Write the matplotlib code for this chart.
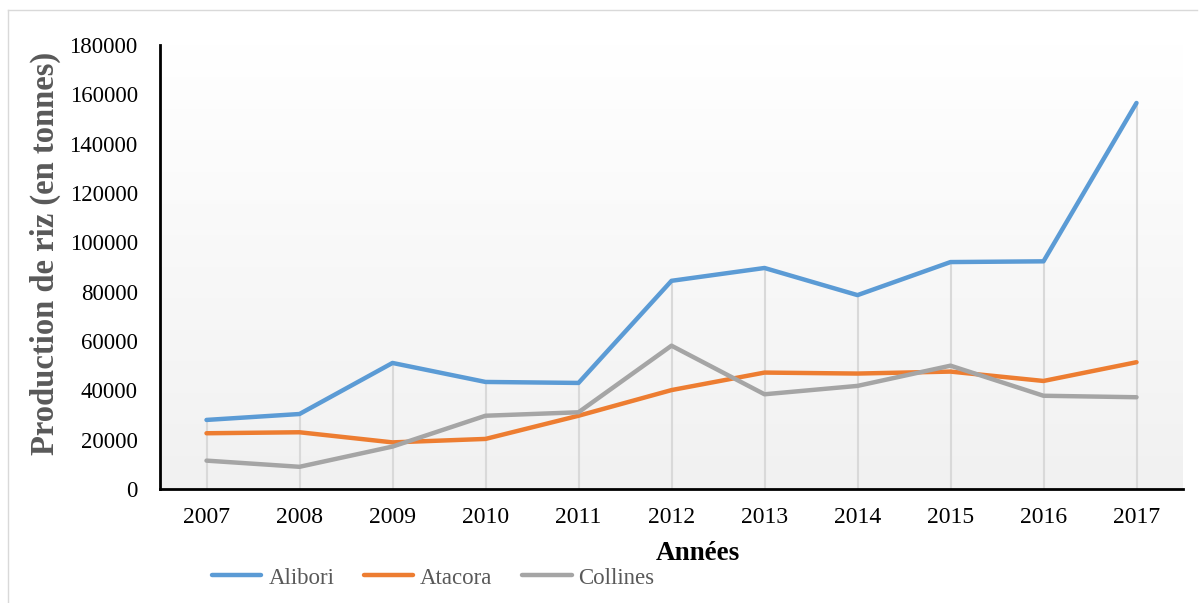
import numpy as np
import matplotlib
matplotlib.use("Agg")
import matplotlib.pyplot as plt
from matplotlib.lines import Line2D

years = [2007, 2008, 2009, 2010, 2011, 2012, 2013, 2014, 2015, 2016, 2017]
alibori = [28000, 30400, 51100, 43400, 43000, 84400, 89600, 78600, 92000, 92300, 156500]
atacora = [22600, 23000, 18900, 20300, 29700, 40100, 47200, 46800, 47600, 43800, 51400]
collines = [11500, 9000, 17200, 29700, 31100, 58100, 38400, 41800, 50000, 37800, 37200]
yticks = [0, 20000, 40000, 60000, 80000, 100000, 120000, 140000, 160000, 180000]

plt.rcParams['font.family'] = ['Liberation Serif', 'DejaVu Serif']

fig = plt.figure(figsize=(11.99, 6.03), dpi=100)
W, H = 1199, 603
ax = fig.add_axes([160 / W, 1 - 489 / H, (1183 - 160) / W, (489 - 45) / H])

# vertical gradient background, white at top to light gray at bottom
grad = np.linspace(1.0, 0.945, 256).reshape(-1, 1)
ax.imshow(np.dstack([grad, grad, grad]), extent=[2006.5, 2017.5, 0, 180000],
          origin='upper', aspect='auto', zorder=0, interpolation='bicubic')

# drop lines from the highest series down to the axis
tops = [max(v) for v in zip(alibori, atacora, collines)]
ax.vlines(years, 0, tops, color='#d9d9d9', lw=1.5, zorder=1)

ax.plot(years, alibori, color='#5B9BD5', lw=3.2, label='Alibori', zorder=3, solid_capstyle='round')
ax.plot(years, atacora, color='#ED7D31', lw=3.2, label='Atacora', zorder=3, solid_capstyle='round')
ax.plot(years, collines, color='#A5A5A5', lw=3.2, label='Collines', zorder=3, solid_capstyle='round')

ax.set_xlim(2006.5, 2017.5)
ax.set_ylim(0, 180000)
ax.set_xticks(years)
ax.set_xticklabels([str(y) for y in years])
ax.set_yticks(yticks)
ax.tick_params(axis='x', length=0, labelsize=17, colors='#000000', pad=13)
ax.tick_params(axis='y', length=0, labelsize=16.5, colors='#000000', pad=16)
for s in ['top', 'right']:
    ax.spines[s].set_visible(False)
for s in ['left', 'bottom']:
    ax.spines[s].set_linewidth(2)
    ax.spines[s].set_color('black')

fig.text(45 / W, 1 - 253 / H, 'Production de riz (en tonnes)', rotation=90,
         ha='center', va='center', fontsize=23.5, fontweight='bold', color='#595959')
fig.text(698 / W, 1 - 553 / H, 'Années', ha='center', va='center',
         fontsize=19.5, fontweight='bold', color='black')

leg = fig.legend(loc='center left', bbox_to_anchor=(203 / W, 1 - 578 / H), ncol=3,
                 frameon=False, fontsize=16.5, handlelength=2.15, handletextpad=0.3,
                 columnspacing=1.3, borderaxespad=0)
for t in leg.get_texts():
    t.set_color('#595959')

# chart border (left and top only visible)
fig.add_artist(Line2D([8 / W, 8 / W], [0, 1 - 10 / H], transform=fig.transFigure, color='#d9d9d9', lw=1))
fig.add_artist(Line2D([8 / W, 1197 / W], [1 - 10 / H, 1 - 10 / H], transform=fig.transFigure, color='#d9d9d9', lw=1))

fig.savefig('out.png', dpi=100)
